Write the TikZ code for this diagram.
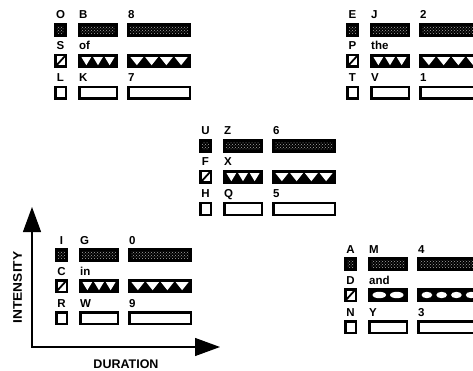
\documentclass[tikz,border=0pt]{standalone}
\usepackage{fontspec}
\setmainfont{Liberation Sans}
\usetikzlibrary{arrows.meta,patterns,calc}
\tikzset{
  frame/.style={draw=black, line width=2.5pt, inner sep=0pt, outer sep=0pt, anchor=north west, minimum height=11.5pt},
  sqbox/.style={frame, minimum width=10.5pt},
  midbox/.style={frame, minimum width=37.5pt},
  longbox/.style={frame, minimum width=61.5pt},
  darkbox/.style={fill=black},
  lbl/.style={font=\bfseries\fontsize{11.5}{11.5}\selectfont, inner sep=0pt},
  axlbl/.style={font=\bfseries\fontsize{12.5}{12.5}\selectfont, inner sep=0pt},
  axisline/.style={line width=1.2pt, {Triangle[length=25pt,width=18pt]}-{Triangle[length=25pt,width=18pt]}},
  texture/.style={pattern=crosshatch dots, pattern color=gray!70},
}
\newcommand\zigfill[4]{%
  \pgfmathsetmacro\pp{(#3-5)/#4}%
  \foreach \i in {1,...,#4} {%
    \fill[white] ({#1+2.5+(\i-1)*\pp+1},{#2+3.2}) -- ({#1+2.5+\i*\pp-1},{#2+3.2}) -- ({#1+2.5+(\i-0.5)*\pp},{#2+11.2}) -- cycle;
  }}
\newcommand\crossfill[4]{%
  \pgfmathsetmacro\pp{(#3-5)/#4}%
  \foreach \i in {1,...,#4} {%
    \fill[white] ({#1+2.5+(\i-0.5)*\pp},{#2+7}) ellipse ({\pp/2-2} and 3.2);
  }}
\begin{document}
\begin{tikzpicture}[x=1pt,y=-1pt]
\useasboundingbox (0,0) rectangle (473,371);
\clip (0,0) rectangle (473,371);
\foreach \n/\x/\y/\a/\b/\c/\d/\e/\f/\g/\h/\k/\ca/\cb in {
  ga/54/23/O/B/8/S/of/L/K/7/zig/3/4,
  gb/346/23/E/J/2/P/the/T/V/1/zig/3/4,
  gc/199/139/U/Z/6/F/X/H/Q/5/zig/3/4,
  gd/55/248/I/G/0/C/in/R/W/9/zig/3/4,
  ge/344/257/A/M/4/D/and/N/Y/3/cross/2/4} {
  % row 1 : dark textured bars
  \node[sqbox, darkbox] (\n-a1) at (\x+1.25,\y+1.25) {};
  \node[midbox, darkbox] (\n-b1) at (\x+25.25,\y+1.25) {};
  \node[longbox, darkbox] (\n-c1) at (\x+74.25,\y+1.25) {};
  \foreach \m in {a1,b1,c1}
    \fill[texture] ($(\n-\m.north west)+(1.8,1.8)$) rectangle ($(\n-\m.south east)+(-1.8,-1.8)$);
  \node[lbl, anchor=base] (\n-la) at (\x+6.5,\y-4) {\a};
  \node[lbl, anchor=base west] (\n-lb) at (\x+25,\y-4) {\b};
  \node[lbl, anchor=base west] (\n-lc) at (\x+74,\y-4) {\c};
  % row 2 : patterned bars
  \node[sqbox] (\n-a2) at (\x+1.25,\y+32.25) {};
  \draw[line width=1.8pt] (\n-a2.south west) -- (\n-a2.north east);
  \node[midbox, darkbox] (\n-b2) at (\x+25.25,\y+32.25) {};
  \node[longbox, darkbox] (\n-c2) at (\x+74.25,\y+32.25) {};
  \csname\k fill\endcsname{\x+24}{\y+31}{40}{\ca}
  \csname\k fill\endcsname{\x+73}{\y+31}{64}{\cb}
  \node[lbl, anchor=base] (\n-ld) at (\x+6.5,\y+27) {\d};
  \node[lbl, anchor=base west] (\n-le) at (\x+25,\y+27) {\e};
  % row 3 : white bars
  \node[sqbox] (\n-a3) at (\x+1.25,\y+64.25) {};
  \node[midbox] (\n-b3) at (\x+25.25,\y+64.25) {};
  \node[longbox] (\n-c3) at (\x+74.25,\y+64.25) {};
  \node[lbl, anchor=base] (\n-lf) at (\x+6.5,\y+59) {\f};
  \node[lbl, anchor=base west] (\n-lg) at (\x+25,\y+59) {\g};
  \node[lbl, anchor=base west] (\n-lh) at (\x+74,\y+59) {\h};
}
% axes
\coordinate (origin) at (32,347);
\coordinate (ytip) at (32,207);
\coordinate (xtip) at (220,347);
\draw[axisline] (ytip) -- (origin) -- (xtip);
\node[axlbl] (dur) at (126,364) {DURATION};
\node[axlbl, rotate=90, xscale=1.1] (int) at (17.5,287.5) {INTENSITY};
\end{tikzpicture}
\end{document}
